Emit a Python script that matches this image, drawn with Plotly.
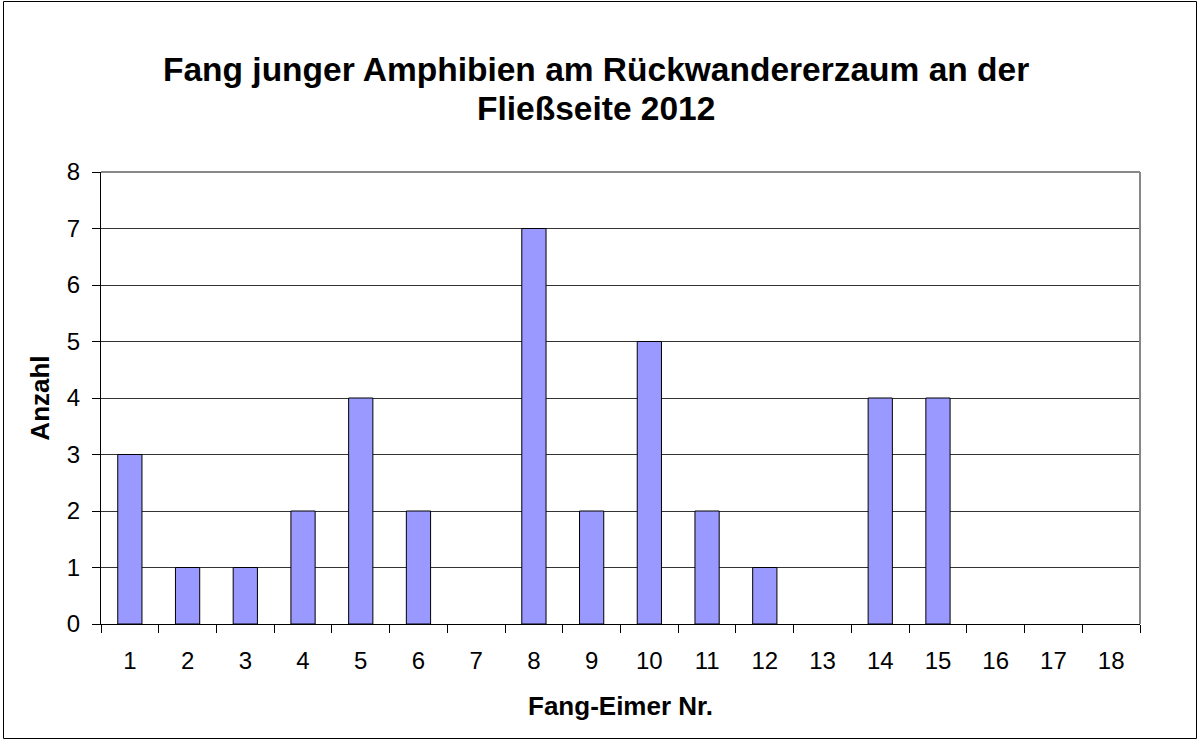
import plotly.graph_objects as go

categories = [str(i) for i in range(1, 19)]
values = [3, 1, 1, 2, 4, 2, 0, 7, 2, 5, 2, 1, 0, 4, 4, 0, 0, 0]
title_lines = ["Fang junger Amphibien am Rückwandererzaum an der", "Fließseite 2012"]
x_title = "Fang-Eimer Nr."
y_title = "Anzahl"
y_ticks = list(range(0, 9))

FONT = "Liberation Sans, Arial, sans-serif"

fig = go.Figure()
fig.add_trace(go.Bar(
    x=categories, y=values, width=0.42,
    marker=dict(color="#9999FF",
                line=dict(color="#000000", width=[1 if v > 0 else 0 for v in values])),
))

W, H = 1198, 740
L, R, T, B = 101, 58, 172, 116
pw, ph = W - L - R, H - T - B

def px_x(x):
    return (x - L) / pw

def px_y(y):
    return (H - B - y) / ph

fig.update_layout(
    width=W, height=H,
    margin=dict(l=L, r=R, t=T, b=B),
    paper_bgcolor="white", plot_bgcolor="white",
    showlegend=False,
    font=dict(family=FONT, color="black", size=24),
    xaxis=dict(type="category", range=[-0.5, 17.5], tickson="boundaries",
               ticks="outside", ticklen=8, tickcolor="black", tickwidth=1,
               showline=True, linecolor="black", linewidth=1,
               showgrid=False, zeroline=False, ticklabelstandoff=15,
               tickfont=dict(size=24, family=FONT),
               title=dict(text="<b>" + x_title + "</b>", standoff=24,
                          font=dict(size=26, family=FONT))),
    yaxis=dict(range=[0, 8], tickvals=y_ticks, ticks="outside", ticklen=8,
               tickcolor="black", tickwidth=1,
               showline=True, linecolor="black", linewidth=1,
               showgrid=True, gridcolor="#333333", gridwidth=1,
               zeroline=False, ticklabelstandoff=7,
               tickfont=dict(size=24, family=FONT),
               title=dict(text="<b>" + y_title + "</b>", standoff=9,
                          font=dict(size=26, family=FONT))),
)

# title as two centred lines
for text, ypx in zip(title_lines, [70, 108]):
    fig.add_annotation(text="<b>" + text + "</b>", xref="paper", yref="paper",
                       x=px_x(596), y=px_y(ypx), xanchor="center", yanchor="middle",
                       showarrow=False, font=dict(family=FONT, size=33.5, color="black"))

# plot area border top & right (gray)
fig.add_shape(type="line", xref="paper", yref="paper", x0=0, x1=1, y0=1, y1=1,
              line=dict(color="#888888", width=2), layer="above")
fig.add_shape(type="line", xref="paper", yref="paper", x0=1, x1=1, y0=0, y1=1,
              line=dict(color="#888888", width=2), layer="above")
# outer chart border
fig.add_shape(type="rect", xref="paper", yref="paper",
              x0=px_x(3.5), x1=px_x(1196.5), y0=px_y(738.5), y1=px_y(1.5),
              line=dict(color="black", width=1), fillcolor="rgba(0,0,0,0)")

fig.write_html("out.html")
